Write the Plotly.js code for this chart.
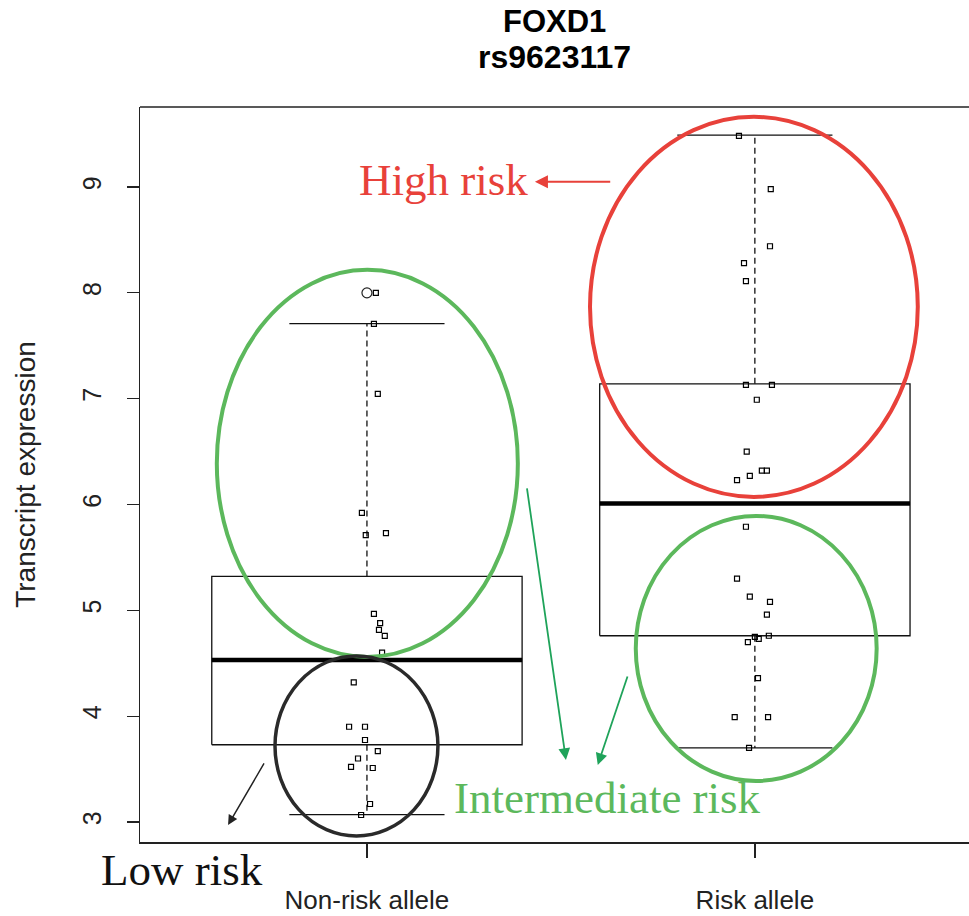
<!DOCTYPE html>
<html>
<head>
<meta charset="utf-8">
<script src="https://cdn.plot.ly/plotly-3.0.1.min.js"></script>
<style>html,body{margin:0;padding:0;background:#fff;overflow:hidden;}#chart{width:969px;height:916px;}</style>
</head>
<body>
<div id="chart"></div>
<script>
// ---- data ----
const categories = ["Non-risk allele", "Risk allele"];
const catPos = [1, 2];
// box statistics
const q1 = [3.73, 4.76];
const medians = [4.53, 6.01];
const q3 = [5.32, 7.14];
const lowerWhisker = [3.07, 3.70];
const upperWhisker = [7.71, 9.49];
const outlierValues = [8.00];
const outlierGroup = [0];
// jittered points: offsets from group centre and values
const nonRiskOffset = [0.023, 0.018, 0.028, -0.013, -0.003, 0.049, 0.018, 0.034, 0.031, 0.046, 0.039, -0.034, -0.046, -0.005, -0.005, 0.028, -0.023, -0.041, 0.015, 0.008, -0.015];
const nonRiskValues = [8.00, 7.707, 7.045, 5.92, 5.71, 5.73, 4.966, 4.88, 4.815, 4.758, 4.60, 4.32, 3.90, 3.90, 3.775, 3.67, 3.60, 3.52, 3.51, 3.17, 3.066];
const riskOffset = [-0.041, 0.041, 0.039, -0.028, -0.023, -0.023, 0.044, 0.005, -0.021, 0.018, 0.031, -0.013, -0.046, -0.023, -0.046, -0.013, 0.039, 0.031, 0.036, 0.000, 0.010, -0.018, 0.008, -0.052, 0.034, -0.015];
const riskValues = [9.484, 8.98, 8.44, 8.28, 8.11, 7.13, 7.13, 6.99, 6.50, 6.32, 6.32, 6.27, 6.23, 5.79, 5.30, 5.13, 5.08, 4.96, 4.76, 4.75, 4.73, 4.70, 4.36, 3.99, 3.99, 3.70];
const yTicks = [3, 4, 5, 6, 7, 8, 9];

// ---- build traces ----
const BOXHALF = 0.4, CAPHALF = 0.2;
const traces = [];
for (let i = 0; i < categories.length; i++) {
  const c = catPos[i];
  // box outline
  traces.push({type: 'scatter', mode: 'lines', hoverinfo: 'skip', showlegend: false,
    x: [c - BOXHALF, c + BOXHALF, c + BOXHALF, c - BOXHALF, c - BOXHALF],
    y: [q1[i], q1[i], q3[i], q3[i], q1[i]],
    line: {color: '#111', width: 1.3}});
  // median
  traces.push({type: 'scatter', mode: 'lines', hoverinfo: 'skip', showlegend: false,
    x: [c - BOXHALF, c + BOXHALF], y: [medians[i], medians[i]],
    line: {color: '#000', width: 4.5}});
  // whiskers (dashed)
  traces.push({type: 'scatter', mode: 'lines', hoverinfo: 'skip', showlegend: false,
    x: [c, c, null, c, c], y: [q3[i], upperWhisker[i], null, q1[i], lowerWhisker[i]],
    line: {color: '#111', width: 1.3, dash: '6px,4px'}});
  // caps
  traces.push({type: 'scatter', mode: 'lines', hoverinfo: 'skip', showlegend: false,
    x: [c - CAPHALF, c + CAPHALF, null, c - CAPHALF, c + CAPHALF],
    y: [upperWhisker[i], upperWhisker[i], null, lowerWhisker[i], lowerWhisker[i]],
    line: {color: '#111', width: 1.3}});
}
// outliers
traces.push({type: 'scatter', mode: 'markers', showlegend: false,
  x: outlierGroup.map(g => catPos[g]), y: outlierValues,
  marker: {symbol: 'circle-open', size: 10, color: '#222', line: {width: 1.2}}});
// jittered points
traces.push({type: 'scatter', mode: 'markers', showlegend: false,
  x: nonRiskOffset.map(o => catPos[0] + o), y: nonRiskValues,
  marker: {symbol: 'square-open', size: 5, color: '#000', line: {width: 1.2}}});
traces.push({type: 'scatter', mode: 'markers', showlegend: false,
  x: riskOffset.map(o => catPos[1] + o), y: riskValues,
  marker: {symbol: 'square-open', size: 5, color: '#000', line: {width: 1.2}}});

const GREEN = '#5cb85c', RED = '#e8413a';
const serif = 'Liberation Serif, Times New Roman, serif';
const sans = 'Liberation Sans, Arial, sans-serif';

const layout = {
  width: 969, height: 916,
  margin: {l: 140, r: 0, t: 107, b: 74},
  paper_bgcolor: '#fff', plot_bgcolor: '#fff',
  showlegend: false,
  xaxis: {
    range: [0.415, 2.552], showgrid: false, zeroline: false,
    tickmode: 'array', tickvals: catPos, ticktext: categories,
    ticks: 'outside', ticklen: 14, tickwidth: 1.3, tickcolor: '#222',
    showline: true, linecolor: '#222', linewidth: 1.5,
    tickfont: {family: sans, size: 26, color: '#222'},
    ticklabelstandoff: 20
  },
  yaxis: {
    range: [2.811, 9.756], showgrid: false, zeroline: false,
    tickmode: 'array', tickvals: yTicks, ticktext: yTicks.map(String),
    ticks: 'outside', ticklen: 12, tickwidth: 1.3, tickcolor: '#222',
    showline: true, linecolor: '#222', linewidth: 1.5,
    tickangle: -90,
    tickfont: {family: sans, size: 25, color: '#222'},
    ticklabelstandoff: 16,
    title: {text: 'Transcript expression', font: {family: sans, size: 28, color: '#222'}, standoff: 33}
  },
  shapes: [
    {type: 'line', xref: 'paper', yref: 'paper', x0: 0, x1: 1, y0: 1, y1: 1, line: {color: '#222', width: 1.5}},
    {type: 'circle', xref: 'x', yref: 'y', x0: 0.613, x1: 1.389, y0: 4.56, y1: 8.217, line: {color: GREEN, width: 4}},
    {type: 'circle', xref: 'x', yref: 'y', x0: 0.763, x1: 1.183, y0: 2.868, y1: 4.569, line: {color: '#2a2a2a', width: 3.5}},
    {type: 'circle', xref: 'x', yref: 'y', x0: 1.575, x1: 2.42, y0: 6.072, y1: 9.663, line: {color: RED, width: 4}},
    {type: 'circle', xref: 'x', yref: 'y', x0: 1.693, x1: 2.314, y0: 3.388, y1: 5.892, line: {color: GREEN, width: 4}}
  ],
  annotations: [
    {xref: 'paper', yref: 'paper', x: 0.5, y: 1.117, text: '<b>FOXD1</b>', showarrow: false, xanchor: 'center', yanchor: 'middle', font: {family: sans, size: 31, color: '#000'}},
    {xref: 'paper', yref: 'paper', x: 0.5, y: 1.068, text: '<b>rs9623117</b>', showarrow: false, xanchor: 'center', yanchor: 'middle', font: {family: sans, size: 32, color: '#000'}},
    {xref: 'x', yref: 'y', x: 1.198, y: 9.068, text: 'High risk', showarrow: false, xanchor: 'center', yanchor: 'middle', font: {family: serif, size: 45, color: RED}},
    {xref: 'x', yref: 'y', x: 1.619, y: 3.227, text: 'Intermediate risk', showarrow: false, xanchor: 'center', yanchor: 'middle', font: {family: serif, size: 45, color: GREEN}},
    {xref: 'paper', yref: 'paper', x: 0.0507, y: -0.038, text: 'Low risk', showarrow: false, xanchor: 'center', yanchor: 'middle', font: {family: serif, size: 45, color: '#111'}},
    // arrows
    {xref: 'x', yref: 'y', axref: 'x', ayref: 'y', x: 1.433, y: 9.049, ax: 1.631, ay: 9.049, text: '', showarrow: true, arrowhead: 2, arrowsize: 1.3, arrowwidth: 2, arrowcolor: RED},
    {xref: 'x', yref: 'y', axref: 'x', ayref: 'y', x: 1.513, y: 3.586, ax: 1.412, ay: 6.166, text: '', showarrow: true, arrowhead: 2, arrowsize: 1.3, arrowwidth: 1.8, arrowcolor: '#1fa35a'},
    {xref: 'x', yref: 'y', axref: 'x', ayref: 'y', x: 1.595, y: 3.539, ax: 1.673, ay: 4.389, text: '', showarrow: true, arrowhead: 2, arrowsize: 1.3, arrowwidth: 1.8, arrowcolor: '#1fa35a'},
    {xref: 'x', yref: 'y', axref: 'x', ayref: 'y', x: 0.642, y: 2.972, ax: 0.737, ay: 3.567, text: '', showarrow: true, arrowhead: 2, arrowsize: 1.3, arrowwidth: 1.5, arrowcolor: '#222'}
  ]
};

Plotly.newPlot('chart', traces, layout, {displayModeBar: false, staticPlot: true});
</script>
</body>
</html>
